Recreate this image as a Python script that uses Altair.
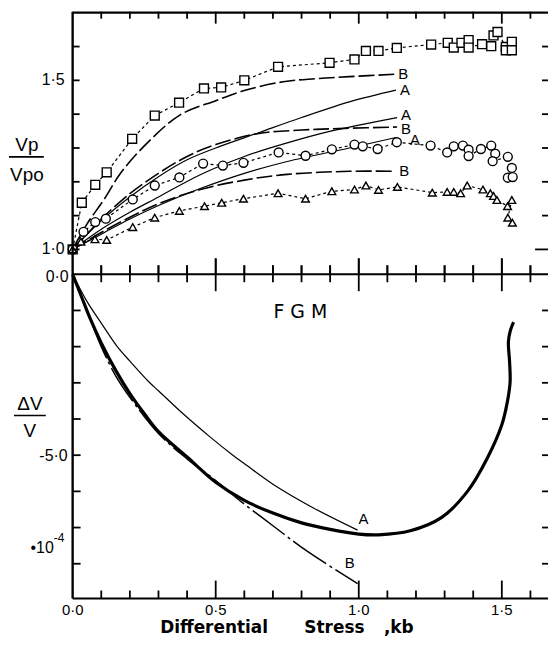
import altair as alt
import pandas as pd

# ---------------- data ----------------
# upper panel: measured Vp/Vp0 (squares, circles, triangles)
sq_x = [0.0, 0.032, 0.079, 0.119, 0.208, 0.287, 0.372, 0.459, 0.519, 0.600, 0.718, 0.898, 0.985,
        1.025, 1.069, 1.133, 1.253, 1.311, 1.332, 1.359, 1.384, 1.384, 1.431, 1.463, 1.471, 1.485,
        1.514, 1.514, 1.535, 1.535]
sq_y = [1.0, 1.138, 1.191, 1.228, 1.327, 1.396, 1.434, 1.476, 1.479, 1.500, 1.540, 1.552, 1.562,
        1.587, 1.587, 1.596, 1.606, 1.611, 1.597, 1.611, 1.619, 1.597, 1.607, 1.601, 1.633, 1.643,
        1.599, 1.589, 1.614, 1.589]

ci_x = [0.0, 0.038, 0.079, 0.116, 0.21, 0.287, 0.373, 0.456, 0.525, 0.597, 0.72, 0.814, 0.906,
        0.985, 1.014, 1.066, 1.133, 1.251, 1.309, 1.332, 1.364, 1.384, 1.384, 1.427, 1.463, 1.477,
        1.468, 1.521, 1.535, 1.521, 1.538]
ci_y = [1.0, 1.052, 1.081, 1.091, 1.148, 1.189, 1.213, 1.254, 1.248, 1.256, 1.287, 1.277, 1.296,
        1.31, 1.305, 1.297, 1.317, 1.307, 1.287, 1.305, 1.307, 1.295, 1.276, 1.297, 1.307, 1.283,
        1.261, 1.274, 1.241, 1.212, 1.214]

tr_x = [0.0, 0.029, 0.078, 0.119, 0.21, 0.287, 0.373, 0.461, 0.521, 0.597, 0.718, 0.814, 0.906,
        0.985, 1.025, 1.069, 1.135, 1.257, 1.309, 1.332, 1.356, 1.379, 1.434, 1.46, 1.471, 1.483,
        1.52, 1.535, 1.521, 1.537]
tr_y = [1.0, 1.023, 1.03, 1.028, 1.066, 1.094, 1.114, 1.128, 1.138, 1.15, 1.166, 1.15, 1.172,
        1.177, 1.189, 1.176, 1.185, 1.168, 1.17, 1.17, 1.166, 1.189, 1.177, 1.166, 1.158, 1.146,
        1.128, 1.146, 1.094, 1.079]

# upper panel: model curves A (solid) and B (dashed)
b1_x = [0.0, 0.05, 0.11, 0.168, 0.261, 0.376, 0.5, 0.6, 0.736, 0.85, 0.967, 1.124]
b1_y = [1.0, 1.075, 1.148, 1.226, 1.315, 1.398, 1.44, 1.47, 1.496, 1.505, 1.511, 1.518]
a1_x = [0.0, 0.1, 0.2, 0.3, 0.4, 0.5, 0.65, 0.8, 0.97, 1.13]
a1_y = [1.0, 1.085, 1.155, 1.215, 1.265, 1.30, 1.345, 1.39, 1.437, 1.471]
b2_x = [0.0, 0.05, 0.1, 0.2, 0.3, 0.4, 0.5, 0.65, 0.8, 0.95, 1.134]
b2_y = [1.0, 1.045, 1.09, 1.165, 1.225, 1.275, 1.31, 1.343, 1.353, 1.358, 1.362]
a2_x = [0.0, 0.1, 0.2, 0.3, 0.446, 0.6, 0.75, 0.898, 1.134]
a2_y = [1.0, 1.06, 1.11, 1.155, 1.221, 1.275, 1.315, 1.349, 1.39]
a3_x = [0.0, 0.1, 0.2, 0.3, 0.446, 0.6, 0.75, 0.967, 1.13]
a3_y = [1.0, 1.045, 1.09, 1.13, 1.18, 1.225, 1.26, 1.3, 1.331]
b3_x = [0.0, 0.1, 0.2, 0.3, 0.446, 0.6, 0.75, 0.967, 1.128]
b3_y = [1.0, 1.05, 1.095, 1.135, 1.177, 1.205, 1.222, 1.231, 1.231]

# lower panel: dV/V (x 1e-4)
fgm_x = [0.0, 0.03, 0.06, 0.1, 0.15, 0.2, 0.25, 0.3, 0.4, 0.5, 0.6, 0.7, 0.8, 0.9, 1.0, 1.07,
         1.18, 1.29, 1.38, 1.45, 1.5, 1.52, 1.529, 1.527, 1.523, 1.53, 1.541]
fgm_y = [0.0, -0.6, -1.2, -1.9, -2.65, -3.3, -3.85, -4.35, -5.05, -5.75, -6.25, -6.6, -6.87,
         -7.05, -7.18, -7.2, -7.09, -6.72, -6.0, -5.07, -4.16, -3.5, -2.97, -2.4, -1.87, -1.55, -1.32]
dva_x = [0.0, 0.05, 0.1, 0.156, 0.2, 0.266, 0.3, 0.388, 0.481, 0.56, 0.608, 0.7, 0.84, 0.996]
dva_y = [0.0, -0.75, -1.35, -2.0, -2.4, -2.97, -3.22, -3.87, -4.5, -5.0, -5.28, -5.8, -6.45, -7.07]
dvb_x = [0.0, 0.05, 0.1, 0.15, 0.2, 0.3, 0.4, 0.5, 0.585, 0.7, 0.817, 0.996]
dvb_y = [0.0, -1.0, -2.0, -2.8, -3.4, -4.4, -5.1, -5.7, -6.26, -6.95, -7.64, -8.55]

top_tick_vals = [1.0, 1.1, 1.2, 1.3, 1.4, 1.5, 1.6]
top_label_vals = [1.0, 1.5]
top_label_text = ["1·0", "1·5"]
bot_tick_vals = [-1, -2, -3, -4, -5, -6, -7, -8]
x_minor = [0.1, 0.2, 0.3, 0.4, 0.6, 0.7, 0.8, 0.9, 1.1, 1.2, 1.3, 1.4, 1.6]
x_major = [0.5, 1.0, 1.5]
x_label_vals = [0.0, 0.5, 1.0, 1.5]
x_label_text = ["0·0", "0·5", "1·0", "1·5"]

# ---------------- layout ----------------
FONT = "Liberation Sans"
TFONT = "DejaVu Sans"
W = 478
H_TOP = 264
H_BOT = 326
xs = alt.Scale(domain=[0, W / 287.7], nice=False, zero=False)
yt = alt.Scale(domain=[0.9265, 1.703], nice=False, zero=False)
yb = alt.Scale(domain=[-8.96, 0.0], nice=False, zero=False)
one = pd.DataFrame({"a": [0]})


def xy(xv, yv):
    return pd.DataFrame({"x": xv, "y": yv, "o": list(range(len(xv)))})


def line(xv, yv, ysc, dash=None, width=1.2, interp="catmull-rom"):
    kw = dict(color="black", strokeWidth=width, interpolate=interp)
    if dash:
        kw["strokeDash"] = dash
    return alt.Chart(xy(xv, yv)).mark_line(**kw).encode(
        x=alt.X("x:Q", scale=xs, axis=None),
        y=alt.Y("y:Q", scale=ysc, axis=None),
        order="o:Q")


def pts(xv, yv, shape, size):
    return alt.Chart(xy(xv, yv)).mark_point(
        shape=shape, size=size, filled=True, fill="white", stroke="black",
        strokeWidth=1.4, opacity=1).encode(
        x=alt.X("x:Q", scale=xs, axis=None),
        y=alt.Y("y:Q", scale=yt, axis=None))


def xticks(vals, y0, y1):
    return alt.Chart(pd.DataFrame({"v": vals})).mark_rule(color="black", strokeWidth=1.8).encode(
        x=alt.X("v:Q", scale=xs, axis=None), y=alt.value(y0), y2=alt.value(y1))


def yticks(vals, ysc, x0, x1):
    return alt.Chart(pd.DataFrame({"v": vals})).mark_rule(color="black", strokeWidth=1.8).encode(
        y=alt.Y("v:Q", scale=ysc, axis=None), x=alt.value(x0), x2=alt.value(x1))


def hrule(y, x0, x1, w=2.2):
    return alt.Chart(one).mark_rule(color="black", strokeWidth=w).encode(
        y=alt.value(y), x=alt.value(x0), x2=alt.value(x1))


def vrule(x, y0, y1, w=2.4):
    return alt.Chart(one).mark_rule(color="black", strokeWidth=w).encode(
        x=alt.value(x), y=alt.value(y0), y2=alt.value(y1))


def label(text, x, y, size=15, align="center", font=FONT, weight="normal"):
    return alt.Chart(one).mark_text(
        text=text, fontSize=size, font=font, align=align, baseline="middle",
        color="black", fontWeight=weight).encode(x=alt.value(x), y=alt.value(y))


def end_label(text, xv, yv, ysc, dx=4, dy=0, align="left", size=15):
    return alt.Chart(pd.DataFrame({"x": [xv[-1]], "y": [yv[-1]]})).mark_text(
        text=text, fontSize=size, font=FONT, align=align, baseline="middle",
        dx=dx, dy=dy, color="black").encode(
        x=alt.X("x:Q", scale=xs, axis=None), y=alt.Y("y:Q", scale=ysc, axis=None))


DOT = [3, 3]
LONGDASH = [16, 4]

top = alt.layer(
    line(sq_x, sq_y, yt, DOT, 1.2, "linear"),
    line(ci_x, ci_y, yt, DOT, 1.2, "linear"),
    line(tr_x, tr_y, yt, DOT, 1.2, "linear"),
    line(b1_x, b1_y, yt, LONGDASH, 1.6),
    line(a1_x, a1_y, yt, None, 1.2),
    line(b2_x, b2_y, yt, LONGDASH, 1.6),
    line(a2_x, a2_y, yt, None, 1.2),
    line(a3_x, a3_y, yt, None, 1.2),
    line(b3_x, b3_y, yt, LONGDASH, 1.6),
    pts(sq_x, sq_y, "square", 80),
    pts(ci_x, ci_y, "circle", 80),
    pts(tr_x, tr_y, "triangle-up", 60),
    end_label("B", b1_x, b1_y, yt),
    end_label("A", a1_x, a1_y, yt),
    end_label("A", a2_x, a2_y, yt, dy=-3),
    end_label("B", b2_x, b2_y, yt, dy=2),
    end_label("A", a3_x, a3_y, yt, dx=14, dy=3),
    end_label("B", b3_x, b3_y, yt),
    # frame and ticks
    vrule(0, 0, H_TOP),
    hrule(1, 0, W),
    xticks(x_minor, 0, 7),
    xticks(x_major, 0, 12),
    xticks(x_minor, H_TOP - 9, H_TOP),
    xticks(x_major, H_TOP - 16, H_TOP),
    yticks(top_tick_vals, yt, 0, 7),
    yticks(top_tick_vals[1:], yt, W - 6, W),
    yticks(top_tick_vals[:1], yt, W - 13, W),
    alt.Chart(pd.DataFrame({"v": top_label_vals, "t": top_label_text})).mark_text(
        fontSize=16, font=FONT, align="right", baseline="middle", color="black", dx=-8).encode(
        y=alt.Y("v:Q", scale=yt, axis=None), x=alt.value(0), text="t:N"),
    # Vp / Vp0 fraction
    label("Vp", -46, 134, size=19),
    label("Vpo", -46, 164, size=19),
    alt.Chart(one).mark_rule(color="black", strokeWidth=1.6).encode(
        x=alt.value(-64), x2=alt.value(-29), y=alt.value(146)),
).properties(width=W, height=H_TOP)

bottom = alt.layer(
    line(dva_x, dva_y, yb, None, 1.2),
    line(dvb_x, dvb_y, yb, [40, 4, 3, 4], 1.5),
    line(fgm_x, fgm_y, yb, None, 3.2),
    end_label("A", dva_x, dva_y, yb, dx=6, dy=-11, align="center"),
    end_label("B", dvb_x, dvb_y, yb, dx=-8, dy=-21, align="center"),
    label("F G M", 229, 38, size=19, font=TFONT),
    # frame and ticks
    vrule(0, 0, H_BOT),
    hrule(0, 0, W),
    hrule(H_BOT, 0, W),
    xticks(x_minor, -9, 8),
    xticks(x_major, -16, 17),
    xticks(x_minor, H_BOT - 8, H_BOT),
    xticks(x_major, H_BOT - 18, H_BOT),
    yticks(bot_tick_vals, yb, 0, 8),
    yticks(bot_tick_vals, yb, W - 6, W),
    alt.Chart(pd.DataFrame({"v": x_label_vals, "t": x_label_text})).mark_text(
        fontSize=15, font=FONT, align="center", baseline="middle", color="black").encode(
        x=alt.X("v:Q", scale=xs, axis=None), y=alt.value(H_BOT + 12), text="t:N"),
    label("0·0", -4, 3, size=16, align="right"),
    label("-5·0", -5, 183, size=16, align="right"),
    label("•10", -19, 275, size=16, align="right"),
    label("-4", -19, 265, size=12, align="left"),
    # dV / V fraction
    label("ΔV", -43, 130, size=19),
    label("V", -43, 158, size=19),
    alt.Chart(one).mark_rule(color="black", strokeWidth=1.6).encode(
        x=alt.value(-59), x2=alt.value(-27), y=alt.value(142)),
    # x-axis title
    label("Differential", 88, 356, size=17, align="left", font=TFONT, weight="bold"),
    label("Stress", 233, 356, size=17, align="left", font=TFONT, weight="bold"),
    label(",kb", 313, 356, size=17, align="left", font=TFONT, weight="bold"),
).properties(width=W, height=H_BOT)

chart = alt.vconcat(top, bottom, spacing=0, bounds="flush").properties(
    padding={"left": 0, "top": 0, "right": 0, "bottom": 0}
).configure_view(stroke=None)

chart.save("out.html", embed_options={"renderer": "svg", "actions": False})
